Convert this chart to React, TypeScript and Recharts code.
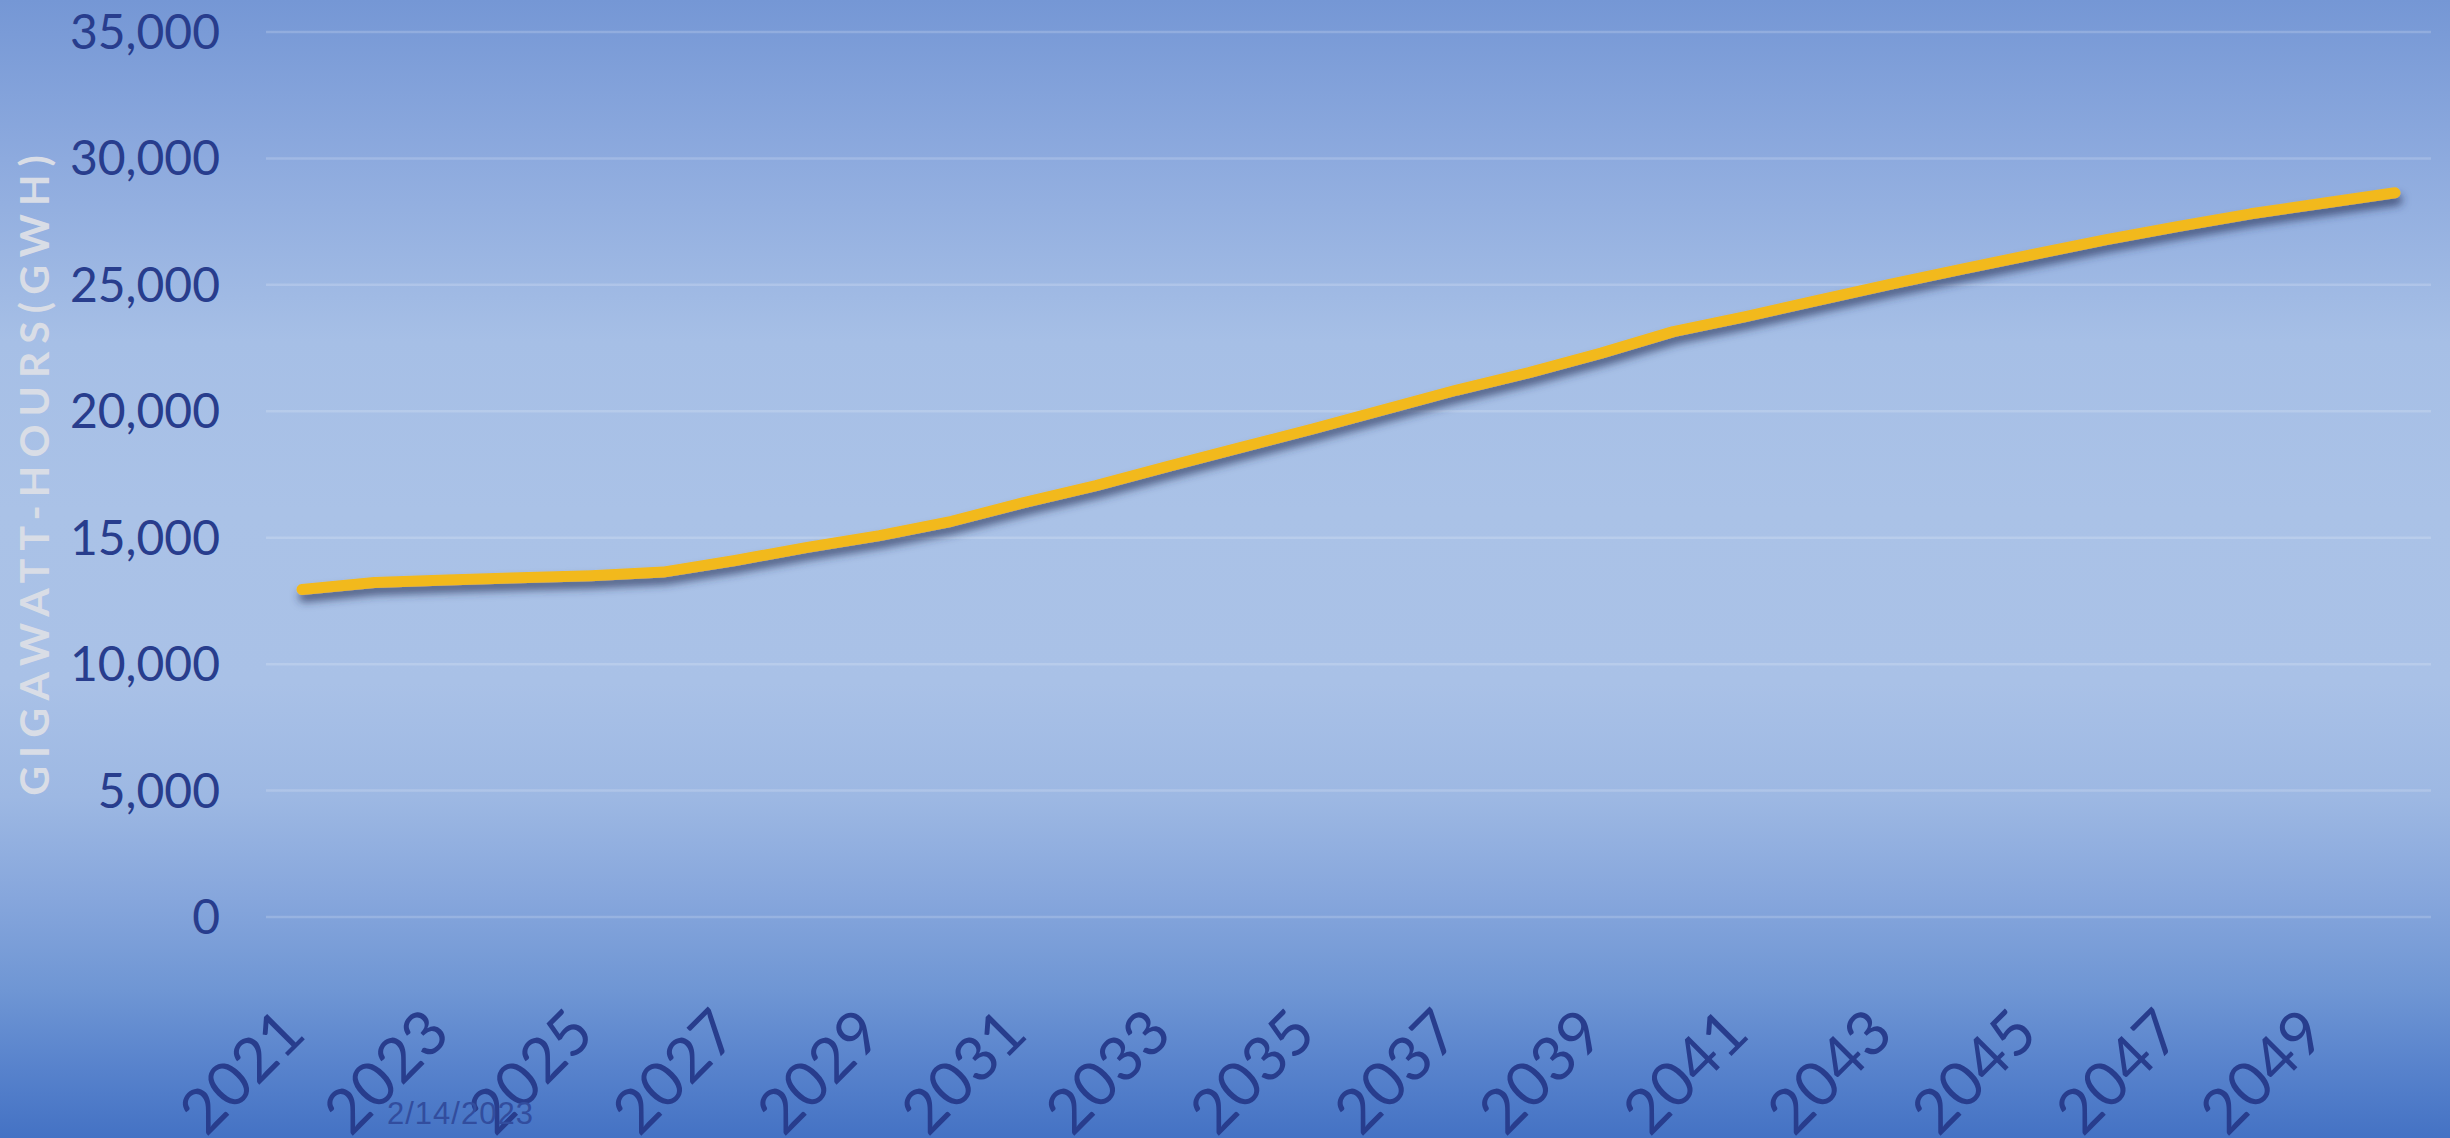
import React from "react";
import { LineChart, Line, XAxis, YAxis, CartesianGrid } from "recharts";

// Annual electricity demand forecast, gigawatt-hours
const years: string[] = [
  "2021", "2022", "2023", "2024", "2025", "2026", "2027", "2028", "2029", "2030",
  "2031", "2032", "2033", "2034", "2035", "2036", "2037", "2038", "2039", "2040",
  "2041", "2042", "2043", "2044", "2045", "2046", "2047", "2048", "2049", "2050",
];
const demandGwh: number[] = [
  12950, 13230, 13330, 13420, 13500, 13640, 14100, 14620, 15080, 15650,
  16390, 17060, 17820, 18560, 19300, 20070, 20840, 21530, 22300, 23150,
  23740, 24390, 25020, 25620, 26210, 26790, 27310, 27810, 28230, 28640,
];
const yTicks: number[] = [0, 5000, 10000, 15000, 20000, 25000, 30000, 35000];
const yTitle = "GIGAWATT-HOURS(GWH)";
const footerDate = "2/14/2023";

const data = years.map((year, i) => ({ year, demand: demandGwh[i] }));

const W = 2450;
const H = 1138;
const tickColor = "#283d8d";
const tickFont = "Lato, 'Open Sans', sans-serif";

const YearTick = (props: any) => {
  const { x, y, payload } = props;
  const ax = x + 6;
  return (
    <text
      x={ax}
      y={y}
      transform={`rotate(-45, ${ax}, ${y})`}
      textAnchor="end"
      fill={tickColor}
      fontFamily={tickFont}
      fontSize={62}
    >
      {payload.value}
    </text>
  );
};

const AxisTitle = (props: any) => {
  const vb = props.viewBox || { x: 0, y: 32, width: 266, height: 885 };
  const cx = 49;
  const cy = vb.y + vb.height / 2 - 3;
  return (
    <text
      x={cx}
      y={cy}
      transform={`rotate(-90, ${cx}, ${cy})`}
      textAnchor="middle"
      fill="#d9dde6"
      fontFamily={tickFont}
      fontWeight={700}
      fontSize={41}
      letterSpacing={8}
    >
      {yTitle}
    </text>
  );
};

export default function App() {
  return (
    <div
      style={{
        position: "absolute",
        left: 0,
        top: 0,
        width: W,
        height: H,
        overflow: "hidden",
        background:
          "linear-gradient(to bottom, #7597d5 0%, #8daade 14%, #a6bfe6 30%, #aac2e7 45%, #a9c1e7 60%, #9db8e3 70%, #86a6dc 79%, #6f96d4 87%, #5782cc 94%, #4472c4 100%)",
      }}
    >
      <LineChart
        width={W}
        height={H}
        data={data}
        margin={{ top: 32, right: 19, bottom: 0, left: 0 }}
      >
        <defs>
          <filter id="lineShadow" x="-5%" y="-20%" width="110%" height="150%">
            <feDropShadow dx="2" dy="7" stdDeviation="4" floodColor="#27355a" floodOpacity="0.7" />
          </filter>
        </defs>
        <CartesianGrid
          vertical={false}
          stroke="#ffffff"
          strokeOpacity={0.18}
          strokeWidth={2.5}
        />
        <XAxis
          dataKey="year"
          interval={1}
          height={221}
          padding={{ left: 36, right: 36 }}
          axisLine={false}
          tickLine={false}
          tickSize={0}
          tickMargin={119}
          tick={<YearTick />}
        />
        <YAxis
          width={266}
          domain={[0, 35000]}
          ticks={yTicks}
          axisLine={false}
          tickLine={false}
          tickSize={0}
          tickMargin={46}
          tick={{ fill: tickColor, fontFamily: tickFont, fontSize: 48 }}
          tickFormatter={(v: number) => v.toLocaleString("en-US")}
          label={<AxisTitle />}
        />
        <Line
          type="linear"
          dataKey="demand"
          stroke="#f2b91f"
          strokeWidth={11}
          strokeLinecap="round"
          strokeLinejoin="round"
          dot={false}
          activeDot={false}
          filter="url(#lineShadow)"
          isAnimationActive={false}
        />
      </LineChart>
      <div
        style={{
          position: "absolute",
          left: 387,
          top: 1096,
          fontFamily: "'Liberation Sans', Arial, sans-serif",
          fontSize: 31,
          lineHeight: "36px",
          color: "#324d9e",
          letterSpacing: 1,
        }}
      >
        {footerDate}
      </div>
    </div>
  );
}
